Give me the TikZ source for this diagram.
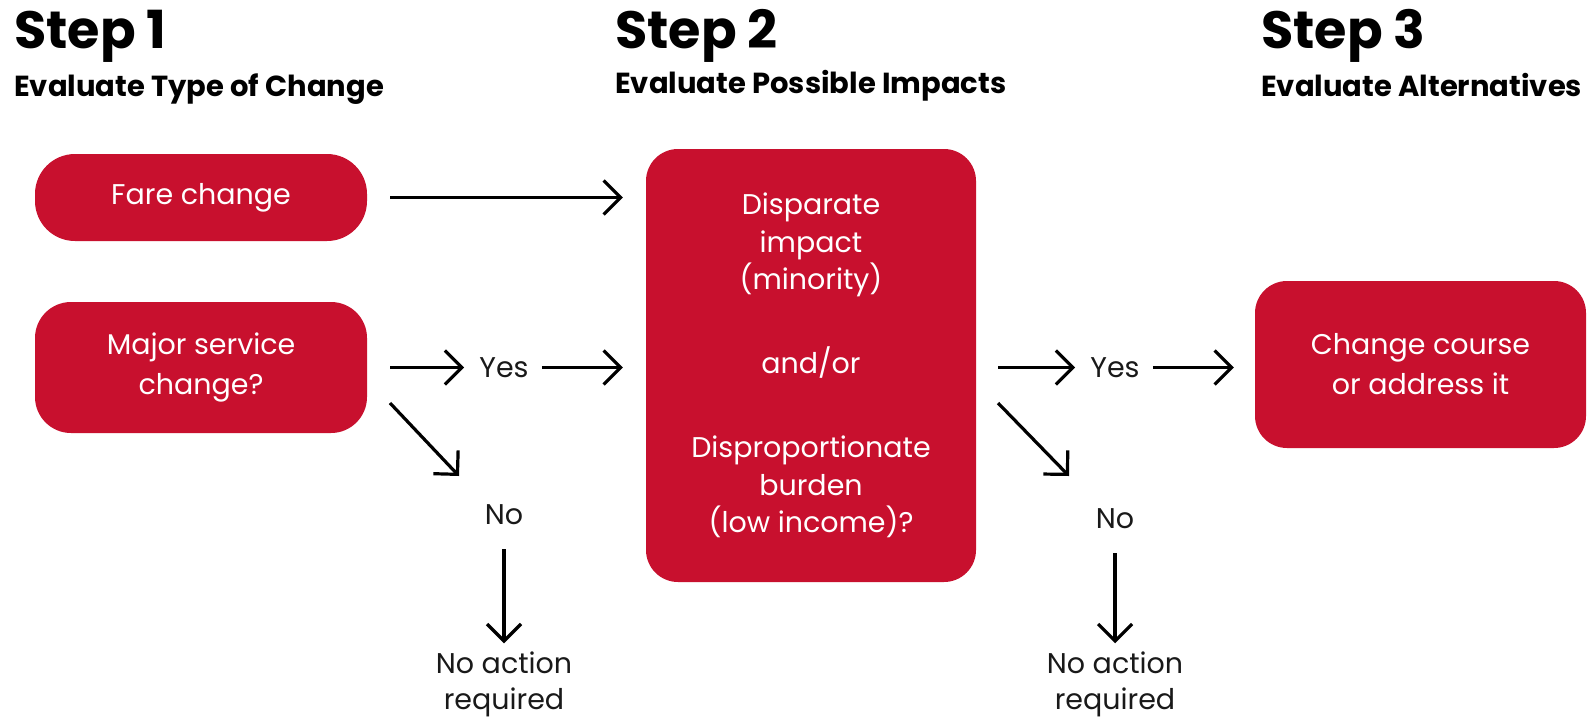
\documentclass[tikz,border=0pt]{standalone}
\usepackage{fontspec}
\setmainfont{Poppins}
\usetikzlibrary{arrows.meta,calc}
\definecolor{boxred}{RGB}{200,16,46}
\definecolor{ink}{RGB}{25,25,25}
\tikzset{
  redbox/.style={draw=none, fill=boxred, text=white, align=center,
    font=\fontsize{28.5}{40}\selectfont, inner sep=0pt},
  lbl/.style={text=ink, align=center, font=\fontsize{28.5}{36}\selectfont, inner sep=0pt},
  stephead/.style={anchor=base west, inner sep=0pt, text=black, font=\bfseries\fontsize{52.5}{58}\selectfont},
  stepsub/.style={anchor=base west, inner sep=0pt, text=black, font=\bfseries\fontsize{29}{34}\selectfont},
  arr/.style={line width=3.2pt, draw=black, -{Straight Barb[length=17pt,width=34pt]}},
}
\begin{document}
\begin{tikzpicture}[x=1pt,y=-1pt]
\useasboundingbox[fill=white] (0,0) rectangle (1589,723);
% headings
\node[stephead] (h1) at (14,48) {Step 1};
\node[stepsub] (s1) at (14,96) {Evaluate Type of Change};
\node[stephead] (h2) at (615,48) {Step 2};
\node[stepsub] (s2) at (615,93) {Evaluate Possible Impacts};
\node[stephead] (h3) at (1261,48) {Step 3};
\node[stepsub] (s3) at (1261,96) {Evaluate Alternatives};
% boxes
\node[redbox, minimum width=332pt, minimum height=87pt, rounded corners=40pt] (fare) at (201,197.5) {Fare change};
\node[redbox, minimum width=332pt, minimum height=131pt, rounded corners=36pt] (major) at (201,367.5) {Major service\\change?};
\node[redbox, minimum width=330pt, minimum height=433pt, rounded corners=32pt,
  font=\fontsize{28.5}{37.5}\selectfont] (impact) at (811,365.5)
  {Disparate\\impact\\(minority)\\[46.5pt]and/or\\[46.5pt]Disproportionate\\burden\\(low income)?};
\node[redbox, minimum width=331pt, minimum height=167pt, rounded corners=32pt] (alt) at (1420.5,364.5) {Change course\\or address it};
% left labels
\node[lbl] (yes1) at (504,367.5) {Yes};
\node[lbl] (no1) at (504,515) {No};
\node[lbl] (na1) at (504,684) {No action\\required};
% right labels
\node[lbl] (yes2) at (1115,367.5) {Yes};
\node[lbl] (no2) at (1115,519) {No};
\node[lbl] (na2) at (1115,684) {No action\\required};
% diagonal coordinates
\coordinate (d1s) at (390,403);
\coordinate (d1e) at (459,476);
\coordinate (d2s) at (998,403);
\coordinate (d2e) at (1069,476);
% connectors
\draw[arr, shorten <=23pt, shorten >=23pt] (fare.east) -- (fare.east -| impact.west);
\draw[arr, shorten <=23pt, shorten >=15pt] (major.east) -- (yes1.west);
\draw[arr, shorten <=13pt, shorten >=23pt] (yes1.east) -- (yes1.east -| impact.west);
\draw[arr] (d1s) -- (d1e);
\draw[arr, shorten <=24pt, shorten >=8pt] (no1.south) -- (na1.north);
\draw[arr, shorten <=22pt, shorten >=15pt] (impact.east |- yes2.west) -- (yes2.west);
\draw[arr, shorten <=13pt, shorten >=21pt] (yes2.east) -- (yes2.east -| alt.west);
\draw[arr] (d2s) -- (d2e);
\draw[arr, shorten <=24pt, shorten >=8pt] (no2.south) -- (na2.north);
\end{tikzpicture}
\end{document}
